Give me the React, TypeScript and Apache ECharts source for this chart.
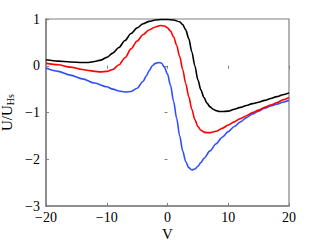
import React, { useEffect, useRef } from "react";
import * as echarts from "echarts";

const blackV = [-20, -18, -16, -14, -13, -12, -11, -10, -9, -8, -7, -6, -5, -4, -3, -2, -1, 0, 1, 2, 2.5, 3, 3.5, 4, 4.5, 5, 5.5, 6, 6.5, 7, 7.5, 8, 8.5, 9, 10, 11, 12, 13, 14, 15, 16, 17, 18, 19, 20];
const blackU = [0.13, 0.1, 0.08, 0.07, 0.07, 0.09, 0.12, 0.18, 0.27, 0.39, 0.54, 0.69, 0.81, 0.9, 0.95, 0.98, 0.99, 0.99, 0.98, 0.94, 0.88, 0.77, 0.58, 0.3, 0.0, -0.3, -0.52, -0.68, -0.8, -0.88, -0.93, -0.96, -0.98, -0.98, -0.97, -0.93, -0.89, -0.85, -0.81, -0.78, -0.74, -0.7, -0.66, -0.62, -0.58];

const redV = [-20, -18, -16, -14, -13, -12, -11, -10, -9, -8, -7, -6, -5, -4, -3, -2, -1.2, -0.5, 0, 0.5, 1, 1.5, 2, 2.5, 3, 3.5, 4, 4.5, 5, 5.5, 6, 6.5, 7, 8, 9, 10, 11, 12, 13, 14, 15, 16, 17, 18, 19, 20];
const redU = [0.05, 0.02, -0.03, -0.08, -0.1, -0.12, -0.13, -0.12, -0.08, 0.02, 0.17, 0.36, 0.53, 0.67, 0.77, 0.83, 0.86, 0.85, 0.81, 0.74, 0.62, 0.44, 0.2, -0.08, -0.38, -0.66, -0.93, -1.15, -1.3, -1.38, -1.42, -1.43, -1.43, -1.4, -1.34, -1.27, -1.2, -1.13, -1.07, -1.0, -0.95, -0.89, -0.84, -0.79, -0.73, -0.68];

const blueV = [-20, -18, -16, -14, -12, -10, -9, -8, -7, -6, -5, -4, -3.5, -3, -2.5, -2, -1.5, -1, -0.5, 0, 0.5, 1, 1.5, 2, 2.5, 3, 3.5, 4, 4.5, 5, 5.5, 6, 7, 8, 9, 10, 11, 12, 13, 14, 15, 16, 17, 18, 19, 20];
const blueU = [-0.05, -0.12, -0.2, -0.28, -0.37, -0.45, -0.5, -0.54, -0.56, -0.55, -0.48, -0.33, -0.22, -0.1, 0.0, 0.05, 0.07, 0.06, -0.03, -0.18, -0.42, -0.76, -1.12, -1.5, -1.82, -2.05, -2.18, -2.23, -2.21, -2.15, -2.07, -1.98, -1.82, -1.67, -1.53, -1.41, -1.3, -1.2, -1.11, -1.03, -0.97, -0.91, -0.86, -0.82, -0.78, -0.74];

const xTicks = [-20, -10, 0, 10, 20];
const yTicks = [1, 0, -1, -2, -3];

const fmt = (v: number) => (v < 0 ? "\u2212" + Math.abs(v) : String(v));

export default function App() {
  const ref = useRef<HTMLDivElement>(null);
  useEffect(() => {
    const chart = echarts.init(ref.current!, undefined, { renderer: "svg" });
    const font = "'Liberation Serif', 'Times New Roman', serif";
    const pair = (xs: number[], ys: number[]) => xs.map((x, i) => [x, ys[i]]);
    const axisLine = { show: true, onZero: false, lineStyle: { color: "#808080", width: 1.5 } };
    const tick = { show: true, inside: true, length: 3, lineStyle: { color: "#808080" } };
    const line = (xs: number[], ys: number[], color: string) => ({
      type: "line",
      data: pair(xs, ys),
      smooth: 0.3,
      smoothMonotone: "x",
      showSymbol: false,
      lineStyle: { color, width: 1.6 },
    });
    chart.setOption({
      animation: false,
      grid: {
        left: 46,
        right: 30,
        top: 19,
        bottom: 34,
        containLabel: false,
        outerBoundsMode: "none",
        show: true,
        borderColor: "#808080",
        borderWidth: 1.2,
      },
      xAxis: [
        {
          type: "value",
          min: xTicks[0],
          max: xTicks[xTicks.length - 1],
          interval: 10,
          axisLine,
          axisTick: tick,
          splitLine: { show: false },
          axisLabel: { color: "#000", fontFamily: font, fontSize: 14, margin: 4, lineHeight: 14, formatter: fmt },
          name: "V",
          nameLocation: "middle",
          nameGap: 20,
          nameMoveOverlap: false,
          nameTextStyle: { color: "#000", fontFamily: font, fontSize: 15, lineHeight: 15, verticalAlign: "top" },
        },
        {
          type: "value",
          position: "top",
          min: -20,
          max: 20,
          interval: 10,
          axisLine: { show: false },
          axisTick: tick,
          axisLabel: { show: false },
          splitLine: { show: false },
        },
      ],
      yAxis: [
        {
          type: "value",
          min: yTicks[yTicks.length - 1],
          max: yTicks[0],
          interval: 1,
          axisLine,
          axisTick: tick,
          splitLine: { show: false },
          axisLabel: { color: "#000", fontFamily: font, fontSize: 14, margin: 6, formatter: fmt },
          name: "{a|U/U}{b|Hs}",
          nameLocation: "middle",
          nameRotate: 90,
          nameGap: 31,
          nameMoveOverlap: false,
          nameTextStyle: {
            color: "#000",
            fontFamily: font,
            rich: {
              a: { fontFamily: font, fontSize: 15, color: "#000", lineHeight: 16 },
              b: { fontFamily: font, fontSize: 10, color: "#000", verticalAlign: "bottom", padding: [5, 0, 0, 0] },
            },
          },
        },
        {
          type: "value",
          position: "right",
          min: -3,
          max: 1,
          interval: 1,
          axisLine: { show: false },
          axisTick: tick,
          axisLabel: { show: false },
          splitLine: { show: false },
        },
      ],
      series: [
        line(blueV, blueU, "#2f4fff"),
        line(redV, redU, "#ff0000"),
        line(blackV, blackU, "#000000"),
      ],
    });
    return () => chart.dispose();
  }, []);
  return <div ref={ref} style={{ width: 319, height: 240, position: "absolute", left: 0, top: 0 }} />;
}
